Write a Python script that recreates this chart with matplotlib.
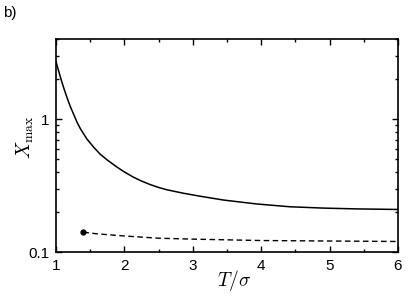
import numpy as np
import matplotlib
matplotlib.use("Agg")
import matplotlib.pyplot as plt
from matplotlib.ticker import LogLocator, FixedLocator, MultipleLocator, NullFormatter, FixedFormatter

plt.rcParams["font.family"] = "Liberation Sans"
plt.rcParams["mathtext.fontset"] = "cm"
plt.rcParams["font.size"] = 11

# solid curve
t_solid = [1.0, 1.035, 1.07, 1.115, 1.165, 1.21, 1.263, 1.31, 1.36, 1.45, 1.556,
           1.643, 1.75, 1.887, 2.0, 2.13, 2.25, 2.374, 2.5, 2.62, 2.86, 3.105,
           3.45, 3.93, 4.42, 4.91, 5.40, 6.0]
x_solid = [2.70, 2.33, 2.02, 1.70, 1.43, 1.24, 1.07, 0.94, 0.84, 0.71, 0.61,
           0.546, 0.492, 0.437, 0.400, 0.366, 0.342, 0.322, 0.306, 0.294, 0.277, 0.263,
           0.246, 0.230, 0.219, 0.214, 0.211, 0.209]

# dashed curve
t_dash = [1.4, 1.6, 2.0, 2.5, 3.0, 4.0, 5.0, 6.0]
x_dash = [0.141, 0.137, 0.132, 0.127, 0.125, 0.122, 0.121, 0.120]

fig = plt.figure(figsize=(4.09, 2.96), dpi=100)
ax = fig.add_axes([0.137, 0.1486, 0.836, 0.7194])

ax.plot(t_solid, x_solid, color="black", lw=1.1)
ax.plot(t_dash, x_dash, color="black", lw=1.0, ls=(0, (4, 2.5)))
ax.plot(t_dash[0], x_dash[0], "o", color="black", ms=3.5)

ax.set_yscale("log")
ax.set_xlim(1, 6)
ax.set_ylim(0.1, 4)
ax.xaxis.set_major_locator(MultipleLocator(1))
ax.xaxis.set_minor_locator(MultipleLocator(0.5))
ax.yaxis.set_major_locator(FixedLocator([0.1, 1]))
ax.yaxis.set_major_formatter(FixedFormatter(["0.1", "1"]))
ax.yaxis.set_minor_locator(LogLocator(base=10, subs=np.arange(2, 10)))
ax.yaxis.set_minor_formatter(NullFormatter())

ax.tick_params(which="both", direction="in", top=True, right=True, width=1.0, labelsize=11)
ax.tick_params(which="major", length=4.5, pad=5)
ax.tick_params(which="minor", length=2.5)
for s in ax.spines.values():
    s.set_linewidth(1.2)

ax.set_xlabel(r"$T/\sigma$", fontsize=14)
ax.set_ylabel(r"$X_{\max}$", fontsize=14)
ax.xaxis.set_label_coords(0.52, -0.075)
ax.yaxis.set_label_coords(-0.06, 0.54)

fig.text(0.008, 0.955, "b)", fontsize=11, va="center", ha="left")

fig.savefig("out.png", dpi=100)
